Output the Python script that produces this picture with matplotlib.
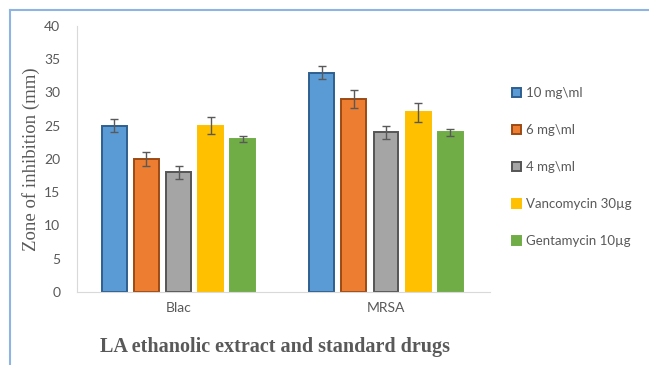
import numpy as np
import matplotlib

matplotlib.use("Agg")
import matplotlib.pyplot as plt
from matplotlib.lines import Line2D

categories = ["Blac", "MRSA"]
series = ["10 mg\\ml", "6 mg\\ml", "4 mg\\ml", "Vancomycin 30µg", "Gentamycin 10µg"]
values = [
    [25, 33],
    [20, 29],
    [18, 24],
    [25, 27],
    [23, 24],
]
errors = [
    [1.0, 1.0],
    [1.0, 1.4],
    [1.0, 1.0],
    [1.3, 1.4],
    [0.5, 0.5],
]
colors = ["#5B9BD5", "#ED7D31", "#A5A5A5", "#FFC000", "#70AD47"]
edges = ["#2E5F8F", "#9C4A14", "#555555", "#FFC000", "#70AD47"]

fig = plt.figure(figsize=(6.49, 3.65), dpi=100)
ax = fig.add_axes([0.1186, 0.2, 0.636, 0.7288])

x = np.arange(len(categories))
width = 0.12
step = 0.155
for i, name in enumerate(series):
    pos = x + (i - 2) * step
    ax.bar(pos, values[i], width, color=colors[i], edgecolor=edges[i],
           linewidth=1.4, label=name, zorder=2)
    ax.errorbar(pos, values[i], yerr=errors[i], fmt="none", ecolor="#595959",
                elinewidth=1, capsize=3, capthick=1, zorder=3)

ax.set_xlim(-0.49, 1.5)
ax.set_ylim(0, 40)
ax.set_yticks(range(0, 41, 5))
ax.set_xticks(x)
ax.set_xticklabels(categories)
for s in ["top", "right"]:
    ax.spines[s].set_visible(False)
ax.spines["left"].set_color("#D9D9D9")
ax.spines["bottom"].set_color("#D9D9D9")
ax.tick_params(axis="both", length=0, labelsize=10, labelcolor="#595959",
               labelfontfamily="Lato")
ax.tick_params(axis="y", pad=12)
ax.tick_params(axis="x", pad=7)

ax.set_ylabel("Zone of inhibition (mm)", family="Liberation Serif", fontsize=13.5,
              color="#595959", labelpad=3)
fig.text(0.424, 0.049, "LA ethanolic extract and standard drugs",
         family="Liberation Serif", fontsize=14.5, fontweight="bold",
         color="#595959", ha="center", va="center")

ax.legend(loc="upper left", bbox_to_anchor=(1.025, 0.815), frameon=False,
          prop={"family": "Lato", "size": 9.5}, labelcolor="#595959",
          handlelength=0.7, handleheight=0.7, handletextpad=0.4,
          labelspacing=1.9)

# light blue frame around the chart
fig.add_artist(Line2D([10 / 649, 1], [1 - 9.5 / 365, 1 - 9.5 / 365],
                      transform=fig.transFigure, color="#8DB4E2", linewidth=1.5))
fig.add_artist(Line2D([10 / 649, 10 / 649], [0, 1 - 9.5 / 365],
                      transform=fig.transFigure, color="#8DB4E2", linewidth=1.5))

fig.savefig("out.png", dpi=100)
